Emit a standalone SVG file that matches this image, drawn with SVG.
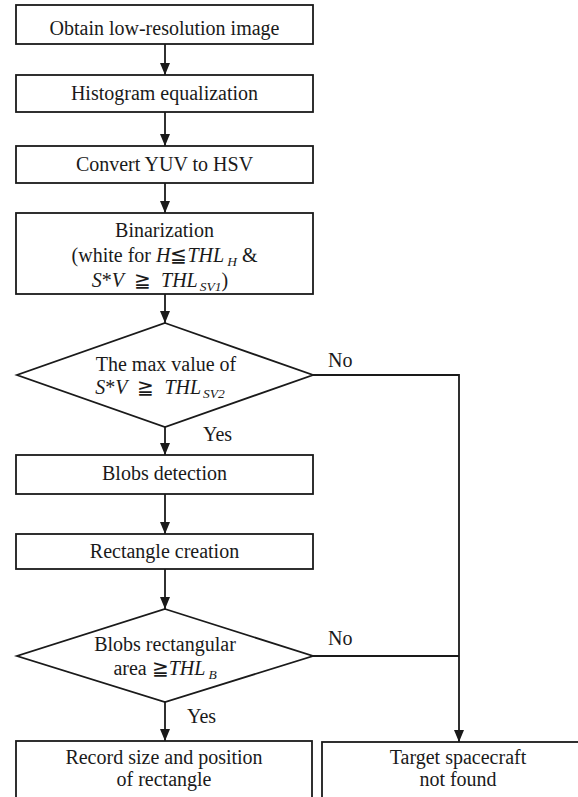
<svg xmlns="http://www.w3.org/2000/svg" width="578" height="797" viewBox="0 0 578 797">
<style>
.n{fill:#fff;stroke:#1a1a1a;stroke-width:1.8}
.c{fill:none;stroke:#1a1a1a;stroke-width:1.8}
.t{font-family:'Liberation Serif','Times New Roman',Times,'DejaVu Serif',serif;font-size:20px;fill:#1a1a1a}
.m{text-anchor:middle}
.i{font-style:italic}
.s{font-style:italic;font-size:13.5px}
</style>
<defs>
<marker id="a" viewBox="0 0 12 10" refX="12" refY="5" markerWidth="12" markerHeight="10" markerUnits="userSpaceOnUse" orient="auto">
<path d="M0,0 L12,5 L0,10 Z" fill="#1a1a1a"/>
</marker>
</defs>
<rect width="578" height="797" fill="#fff"/>
<g id="connectors">
<line class="c" x1="165" y1="44" x2="165" y2="75" marker-end="url(#a)"/>
<line class="c" x1="165" y1="112" x2="165" y2="146" marker-end="url(#a)"/>
<line class="c" x1="165" y1="183" x2="165" y2="213" marker-end="url(#a)"/>
<line class="c" x1="165" y1="294" x2="165" y2="323" marker-end="url(#a)"/>
<line class="c" x1="165" y1="427" x2="165" y2="455" marker-end="url(#a)"/>
<line class="c" x1="165" y1="494" x2="165" y2="534" marker-end="url(#a)"/>
<line class="c" x1="165" y1="569" x2="165" y2="609" marker-end="url(#a)"/>
<line class="c" x1="165" y1="702" x2="165" y2="741" marker-end="url(#a)"/>
<polyline class="c" points="313,375 459,375 459,742" marker-end="url(#a)"/>
<line class="c" x1="313" y1="656" x2="459" y2="656"/>
<g class="t">
<text x="328" y="367">No</text>
<text x="203" y="441">Yes</text>
<text x="328" y="645">No</text>
<text x="187" y="723">Yes</text>
</g>
</g>
<g class="t">
<g id="n1">
<rect class="n" x="16" y="5" width="297" height="39"/>
<text class="m" x="164.5" y="35">Obtain low-resolution image</text>
</g>
<g id="n2">
<rect class="n" x="16" y="75" width="297" height="37"/>
<text class="m" x="164.5" y="100">Histogram equalization</text>
</g>
<g id="n3">
<rect class="n" x="16" y="146" width="297" height="37"/>
<text class="m" x="164.5" y="171">Convert YUV to HSV</text>
</g>
<g id="n4">
<rect class="n" x="16" y="213" width="297" height="81"/>
<text class="m" x="164.5" y="237">Binarization</text>
<text class="m" x="164.5" y="262">(white for <tspan class="i">H</tspan>≦<tspan class="i">THL</tspan><tspan class="s" dx="3" dy="4">H</tspan><tspan dy="-4"> &amp;</tspan></text>
<text class="m" x="160" y="287"><tspan class="i">S</tspan>*<tspan class="i">V</tspan><tspan dx="10">≧</tspan><tspan class="i" dx="10">THL</tspan><tspan class="s" dx="2" dy="4">SV1</tspan><tspan dy="-4">)</tspan></text>
</g>
<g id="n5">
<polygon class="n" points="165,323 313,375 165,427 17,375"/>
<text class="m" x="166" y="371">The max value of</text>
<text class="m" x="160" y="394"><tspan class="i">S</tspan>*<tspan class="i">V</tspan><tspan dx="10">≧</tspan><tspan class="i" dx="10">THL</tspan><tspan class="s" dx="2" dy="4">SV2</tspan></text>
</g>
<g id="n6">
<rect class="n" x="16" y="455" width="297" height="39"/>
<text class="m" x="164.5" y="480">Blobs detection</text>
</g>
<g id="n7">
<rect class="n" x="16" y="534" width="297" height="35"/>
<text class="m" x="164.5" y="558">Rectangle creation</text>
</g>
<g id="n8">
<polygon class="n" points="165,609 313,656 165,702 17,656"/>
<text class="m" x="165" y="651">Blobs rectangular</text>
<text class="m" x="165" y="675">area ≧<tspan class="i">THL</tspan><tspan class="s" dx="3" dy="4">B</tspan></text>
</g>
<g id="n9">
<rect class="n" x="16" y="741" width="296" height="70"/>
<text class="m" x="164" y="764">Record size and position</text>
<text class="m" x="164" y="786">of rectangle</text>
</g>
<g id="n10">
<rect class="n" x="322" y="742" width="272" height="70"/>
<text class="m" x="458" y="764">Target spacecraft</text>
<text class="m" x="458" y="786">not found</text>
</g>
</g>
</svg>
